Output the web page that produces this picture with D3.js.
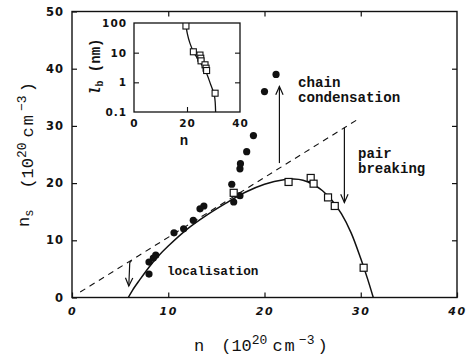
<!DOCTYPE html>
<html>
<head>
<meta charset="utf-8">
<script src="https://cdn.jsdelivr.net/npm/d3@7"></script>
<style>
  body { margin: 0; background: #fff; }
  svg { display: block; }
  .tick text { font-family: "DejaVu Sans", sans-serif; font-weight: bold; fill: #111; }
  .mono { font-family: "Liberation Mono", "Courier New", monospace; fill: #111; }
</style>
</head>
<body>
<div id="chart"></div>
<script>
// data
// filled circles: [n, ns]
const circles = [[8.0,4.1],[8.0,6.2],[8.45,6.9],[8.7,7.4],[10.6,11.3],[11.6,12.0],[12.6,13.5],
  [13.3,15.5],[13.7,16.0],[16.8,16.7],[17.45,17.8],[16.6,19.8],[17.45,22.5],[17.5,23.4],
  [18.15,25.5],[18.85,28.3],[20.0,36.0],[21.2,39.0]];
// open squares: [n, ns]
const squares = [[16.8,18.3],[22.5,20.2],[24.8,20.9],[25.1,19.9],[26.6,17.5],[27.3,16.0],[30.3,5.2]];
// fitted solid curve
const fitCurve = [[5.85,0],[6.3,1.3],[7,3.0],[8,5.3],[9,7.3],[10,9.0],[12,12.0],[14,14.4],
  [16,16.5],[18,18.4],[20,19.8],[22,20.6],[23,20.7],[24,20.5],[25,19.8],[26,18.7],[27,17.0],
  [28,14.6],[29,11.3],[30,6.8],[30.7,3.3],[31.3,0]];
// dashed line
const dashLine = [[0.85,0.95],[29.75,31.2]];
// arrows (data coords)
const arrowLocal = [[6.2,6.5],[6.0,6.1],[5.9,2.0]];
const arrowChain = [[21.55,23.5],[21.55,36.9]];
const arrowPair = [[28.3,29.7],[28.3,16.6]];

// inset: squares [n, lb (nm)]
const insetSquares = [[19.6,79],[22.4,10.7],[24.9,8.3],[25.2,6.5],[25.3,5.3],[26.8,3.9],[27.2,3.0],[27.4,2.5],[30.6,0.43]];
const insetCurve = [[19.5,100],[19.6,86],[20.1,45],[21.1,21],[22.6,10],[24.9,4.9],[27.2,2.2],[29,0.81],[30.3,0.38],[30.8,0.1]];

const xTicks = [0,10,20,30,40];
const yTicks = [0,10,20,30,40,50];
const insetXTicks = [0,20,40];
const insetYTicks = [0.1,1,10,100];

const width = 469, height = 357;
const ink = "#111";

const svg = d3.select("#chart").append("svg")
  .attr("width", width).attr("height", height)
  .attr("viewBox", [0, 0, width, height]);

const x = d3.scaleLinear().domain([0,40]).range([72,457]);
const y = d3.scaleLinear().domain([0,50]).range([297.5,11.5]);

// frame
svg.append("rect")
  .attr("x", x(0)).attr("y", y(50))
  .attr("width", x(40)-x(0)).attr("height", y(0)-y(50))
  .attr("fill", "none").attr("stroke", ink).attr("stroke-width", 1.4);

// axes with inward ticks
const xb = svg.append("g").attr("transform", `translate(0,${y(0)})`)
  .call(d3.axisBottom(x).tickValues(xTicks).tickSize(-5).tickPadding(10));
const xt = svg.append("g").attr("transform", `translate(0,${y(50)})`)
  .call(d3.axisTop(x).tickValues([10,20,30]).tickSize(-5).tickFormat(""));
const yl = svg.append("g").attr("transform", `translate(${x(0)},0)`)
  .call(d3.axisLeft(y).tickValues(yTicks).tickSize(-5).tickPadding(8));
const yr = svg.append("g").attr("transform", `translate(${x(40)},0)`)
  .call(d3.axisRight(y).tickValues([10,20,30,40]).tickSize(-5).tickFormat(""));
[xb, xt, yl, yr].forEach(g => {
  g.select(".domain").remove();
  g.selectAll(".tick line").attr("stroke", ink).attr("stroke-width", 1.2);
});
xb.selectAll(".tick text").attr("font-size", 11).attr("font-style", "italic").attr("letter-spacing", 1.5);
yl.selectAll(".tick text").attr("font-size", 11.5).attr("letter-spacing", 1);

// dashed line
const line = d3.line().x(d => x(d[0])).y(d => y(d[1]));
svg.append("path").datum(dashLine).attr("d", line)
  .attr("fill", "none").attr("stroke", ink).attr("stroke-width", 1.1).attr("stroke-dasharray", "6,5");

// solid fit curve
svg.append("path").datum(fitCurve).attr("d", line.curve(d3.curveCatmullRom))
  .attr("fill", "none").attr("stroke", ink).attr("stroke-width", 1.5);
line.curve(d3.curveLinear);

// points
svg.append("g").selectAll("circle").data(circles).join("circle")
  .attr("cx", d => x(d[0])).attr("cy", d => y(d[1])).attr("r", 3.6).attr("fill", ink);
svg.append("g").selectAll("rect").data(squares).join("rect")
  .attr("x", d => x(d[0]) - 3.5).attr("y", d => y(d[1]) - 3.5)
  .attr("width", 7).attr("height", 7)
  .attr("fill", "white").attr("stroke", ink).attr("stroke-width", 1.2);

// arrows
function arrow(pts) {
  const p = pts.map(d => [x(d[0]), y(d[1])]);
  svg.append("path").attr("d", d3.line()(p))
    .attr("fill", "none").attr("stroke", ink).attr("stroke-width", 1.2);
  const a = p[p.length-2], b = p[p.length-1];
  const ang = Math.atan2(b[1]-a[1], b[0]-a[0]);
  const L = 9, w = 0.42;
  const h1 = [b[0] - L*Math.cos(ang - w), b[1] - L*Math.sin(ang - w)];
  const h2 = [b[0] - L*Math.cos(ang + w), b[1] - L*Math.sin(ang + w)];
  svg.append("path").attr("d", d3.line()([h1, b, h2]))
    .attr("fill", "none").attr("stroke", ink).attr("stroke-width", 1.2);
}
arrow(arrowLocal);
arrow(arrowChain);
arrow(arrowPair);

// annotations
const ann = svg.append("g").attr("class", "mono").attr("font-weight", "bold");
ann.append("text").attr("x", 298).attr("y", 87).attr("font-size", 14.2).text("chain");
ann.append("text").attr("x", 298).attr("y", 102).attr("font-size", 14.2).text("condensation");
ann.append("text").attr("x", 358).attr("y", 158).attr("font-size", 14).text("pair");
ann.append("text").attr("x", 358).attr("y", 173).attr("font-size", 14).text("breaking");
ann.append("text").attr("x", 167).attr("y", 275).attr("font-size", 12.7).text("localisation");

// axis titles: "<lead> (10^20 cm^-3)"
function unitsTitle(t, gap) {
  t.append("tspan").attr("dx", gap).text("(10");
  t.append("tspan").attr("dy", -7).attr("font-size", 13).text("20");
  t.append("tspan").attr("dy", 7).attr("dx", 5).attr("letter-spacing", 2).text("cm");
  t.append("tspan").attr("dy", -7).attr("dx", 2).attr("font-size", 13).text("−3");
  t.append("tspan").attr("dy", 7).attr("dx", 3).text(")");
}
const xTitle = svg.append("text").attr("class", "mono").attr("x", 194).attr("y", 351).attr("font-size", 17);
xTitle.append("tspan").text("n");
unitsTitle(xTitle, 17);

const yTitle = svg.append("text").attr("class", "mono")
  .attr("transform", "translate(28.5,227) rotate(-90)").attr("font-size", 17);
yTitle.append("tspan").text("n");
yTitle.append("tspan").attr("dy", 4).attr("font-size", 12).text("s");
yTitle.append("tspan").attr("dy", -4);
unitsTitle(yTitle, 21);

// ---- inset ----
const ix = d3.scaleLinear().domain([0,40]).range([134,240]);
const iy = d3.scaleLog().domain([0.1,100]).range([112,23]);
const inset = svg.append("g");
inset.append("rect").attr("x", ix(0)).attr("y", iy(100))
  .attr("width", ix(40)-ix(0)).attr("height", iy(0.1)-iy(100))
  .attr("fill", "white").attr("stroke", ink).attr("stroke-width", 1.3);
svg.append("clipPath").attr("id", "iclip").append("rect")
  .attr("x", ix(0)).attr("y", iy(100)).attr("width", ix(40)-ix(0)).attr("height", iy(0.1)-iy(100));

const ixb = inset.append("g").attr("transform", `translate(0,${iy(0.1)})`)
  .call(d3.axisBottom(ix).tickValues(insetXTicks).tickSize(-5).tickPadding(8).tickFormat(d3.format("d")));
const ixt = inset.append("g").attr("transform", `translate(0,${iy(100)})`)
  .call(d3.axisTop(ix).tickValues([20]).tickSize(-5).tickFormat(""));
const iyl = inset.append("g").attr("transform", `translate(${ix(0)},0)`)
  .call(d3.axisLeft(iy).tickValues(insetYTicks).tickSize(-5).tickPadding(7).tickFormat(d => String(d)));
const iyr = inset.append("g").attr("transform", `translate(${ix(40)},0)`)
  .call(d3.axisRight(iy).tickValues([1,10]).tickSize(-5).tickFormat(""));
[ixb, ixt, iyl, iyr].forEach(g => {
  g.select(".domain").remove();
  g.selectAll(".tick line").attr("stroke", ink).attr("stroke-width", 1.1);
  g.selectAll(".tick text").attr("font-size", 10.5).attr("letter-spacing", 1);
});
ixb.selectAll(".tick line").filter(d => d === 0 || d === 40).remove();
iyl.selectAll(".tick line").filter(d => d === 0.1 || d === 100).remove();

const iline = d3.line().x(d => ix(d[0])).y(d => iy(d[1])).curve(d3.curveCatmullRom);
const ic = inset.append("g").attr("clip-path", "url(#iclip)");
ic.append("path").datum(insetCurve).attr("d", iline)
  .attr("fill", "none").attr("stroke", ink).attr("stroke-width", 1.3);
ic.selectAll("rect").data(insetSquares).join("rect")
  .attr("x", d => ix(d[0]) - 3).attr("y", d => iy(d[1]) - 3)
  .attr("width", 6).attr("height", 6)
  .attr("fill", "white").attr("stroke", ink).attr("stroke-width", 1.1);

inset.append("text").attr("class", "mono").attr("font-weight", "bold")
  .attr("x", 184).attr("y", 145).attr("text-anchor", "middle").attr("font-size", 14).text("n");
const ilab = inset.append("text").attr("class", "mono").attr("font-weight", "bold")
  .attr("transform", "translate(100,95) rotate(-90)").attr("font-size", 14);
ilab.append("tspan").attr("font-style", "italic").text("l");
ilab.append("tspan").attr("dy", 3).attr("font-size", 10).text("b");
ilab.append("tspan").attr("dy", -3).text(" (nm)");
</script>
</body>
</html>
